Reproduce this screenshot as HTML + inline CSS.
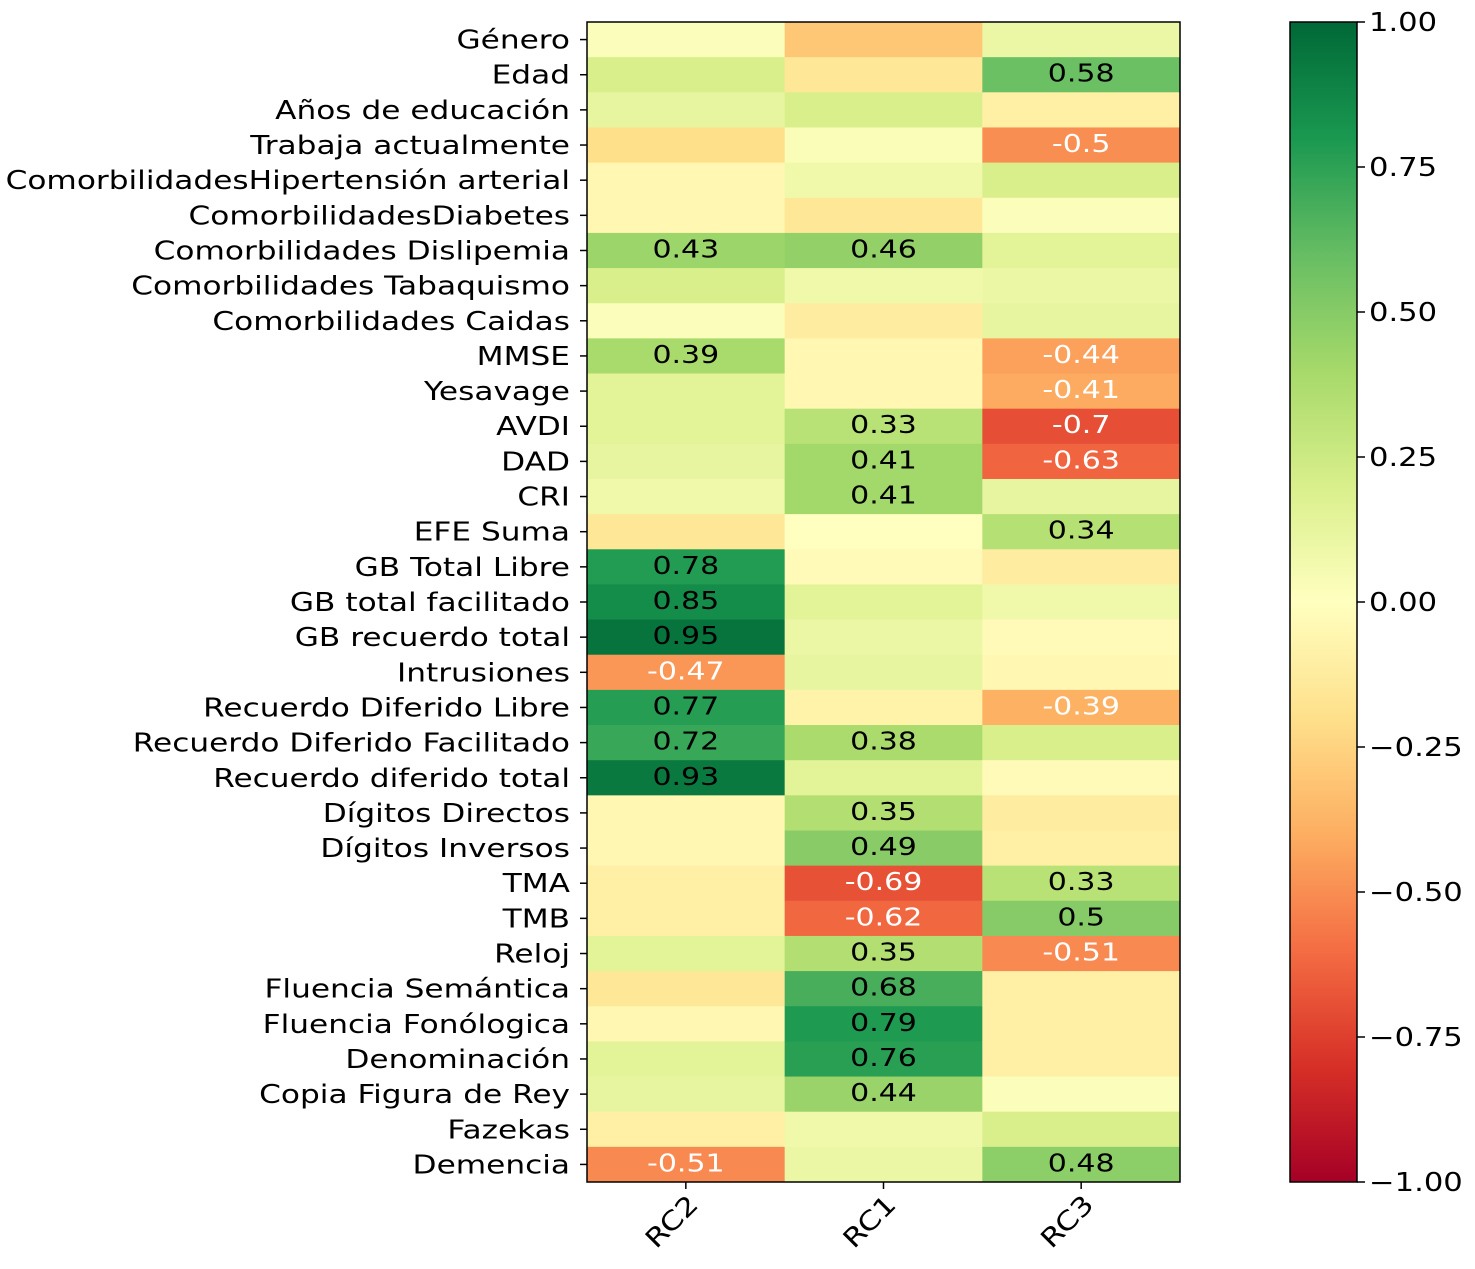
<!DOCTYPE html>
<html><head><meta charset="utf-8"><style>
body{margin:0;background:#fff}
svg text{font-family:"DejaVu Sans","Liberation Sans",sans-serif}
</style></head><body>
<svg id="chart" width="1475" height="1264" xmlns="http://www.w3.org/2000/svg"></svg>
<script>
const rowLabels=["Género","Edad","Años de educación","Trabaja actualmente","ComorbilidadesHipertensión arterial","ComorbilidadesDiabetes","Comorbilidades Dislipemia","Comorbilidades Tabaquismo","Comorbilidades Caidas","MMSE","Yesavage","AVDI","DAD","CRI","EFE Suma","GB Total Libre","GB total facilitado","GB recuerdo total","Intrusiones","Recuerdo Diferido Libre","Recuerdo Diferido Facilitado","Recuerdo diferido total","Dígitos Directos","Dígitos Inversos","TMA","TMB","Reloj","Fluencia Semántica","Fluencia Fonólogica","Denominación ","Copia Figura de Rey","Fazekas","Demencia"];
const colLabels=["RC2","RC1","RC3"];
const rc2=[0.02,0.2,0.12,-0.2,-0.05,-0.05,0.43,0.2,0.02,0.39,0.15,0.15,0.12,0.08,-0.15,0.78,0.85,0.95,-0.47,0.77,0.72,0.93,-0.05,-0.05,-0.1,-0.1,0.15,-0.15,-0.05,0.15,0.12,-0.1,-0.51];
const rc1=[-0.3,-0.15,0.2,0.03,0.08,-0.15,0.46,0.08,-0.12,-0.05,-0.05,0.33,0.41,0.41,0.0,-0.03,0.15,0.1,0.12,-0.08,0.38,0.15,0.35,0.49,-0.69,-0.62,0.35,0.68,0.79,0.76,0.44,0.08,0.1];
const rc3=[0.1,0.58,-0.1,-0.5,0.2,0.02,0.15,0.1,0.12,-0.44,-0.41,-0.7,-0.63,0.12,0.34,-0.12,0.08,-0.03,-0.05,-0.39,0.2,-0.03,-0.12,-0.1,0.33,0.5,-0.51,-0.1,-0.1,-0.1,0.02,0.2,0.48];
const cbTicks=[1,0.75,0.5,0.25,0,-0.25,-0.5,-0.75,-1];
const cbTickLabels=["1.00","0.75","0.50","0.25","0.00","\u22120.25","\u22120.50","\u22120.75","\u22121.00"];

const stops=["#a50026","#d73027","#f46d43","#fdae61","#fee08b","#ffffbf","#d9ef8b","#a6d96a","#66bd63","#1a9850","#006837"];
function hex(h){return [1,3,5].map(i=>parseInt(h.substr(i,2),16));}
function cmap(v){let t=(v+1)/2*10;t=Math.max(0,Math.min(10,t));const i=Math.min(9,Math.floor(t)),f=t-i;const a=hex(stops[i]),b=hex(stops[i+1]);return `rgb(${a.map((x,k)=>Math.round(x+(b[k]-x)*f)).join(",")})`;}
const svg=document.getElementById("chart");const NS="http://www.w3.org/2000/svg";
function mk(tag,attrs,parent){const e=document.createElementNS(NS,tag);for(const k in attrs)e.setAttribute(k,attrs[k]);(parent||svg).appendChild(e);return e;}
const SX=1.2;
const X0=587,X1=1180,Y0=22,Y1=1182;
const cw=(X1-X0)/colLabels.length,rh=(Y1-Y0)/rowLabels.length;
const xC=j=>X0+j*cw,yR=i=>Y0+i*rh;
const series=[rc2,rc1,rc3];
const g=mk("g",{});


series.forEach((s,j)=>s.forEach((v,i)=>{
 const r=mk("rect",{x:xC(j),y:yR(i),width:cw+0.5,height:rh+0.5,fill:cmap(v)},g);
 
 
 if(Math.abs(v)>=0.33){const t=mk("text",{x:0,y:0,"text-anchor":"middle","font-size":25,fill:v<0?"#fff":"#000",transform:`translate(${xC(j)+cw/2},${yR(i)+rh/2+7}) scale(${SX},1)`},g);t.textContent=String(v);
 
 }
}));
const fr=mk("rect",{x:X0,y:Y0,width:X1-X0,height:Y1-Y0,fill:"none",stroke:"#000","stroke-width":1.5});


rowLabels.forEach((l,i)=>{const y=yR(i)+rh/2;mk("line",{x1:X0-7,x2:X0,y1:y,y2:y,stroke:"#000","stroke-width":1.5});
 const t=mk("text",{x:0,y:0,"text-anchor":"end","font-size":26,fill:"#000",transform:`translate(${X0-17},${y+9}) scale(${SX},1)`});t.textContent=l;
 
 });
colLabels.forEach((l,j)=>{const x=xC(j)+cw/2;mk("line",{x1:x,x2:x,y1:Y1,y2:Y1+7,stroke:"#000","stroke-width":1.5});
 const t=mk("text",{x:0,y:0,"text-anchor":"end","font-size":26,fill:"#000",transform:`translate(${x+14},${Y1+24}) rotate(-45) scale(${SX},1)`});t.textContent=l;
 
 });
const CX0=1290,CX1=1357;
const defs=mk("defs",{});const lg=mk("linearGradient",{id:"cb",x1:0,y1:1,x2:0,y2:0},defs);
stops.forEach((c,k)=>mk("stop",{offset:k/10,"stop-color":c},lg));
const cb=mk("rect",{x:CX0,y:Y0,width:CX1-CX0,height:Y1-Y0,fill:"url(#cb)",stroke:"#000","stroke-width":1.5});


const yCb=v=>Y0+(1-v)/2*(Y1-Y0);
cbTicks.forEach((v,k)=>{const y=yCb(v);mk("line",{x1:CX1,x2:CX1+8,y1:y,y2:y,stroke:"#000","stroke-width":1.5});
 const t=mk("text",{x:0,y:0,"font-size":25.5,fill:"#000",transform:`translate(${CX1+12},${y+9}) scale(${SX},1)`});t.textContent=cbTickLabels[k];
 
 });
</script>
</body></html>
